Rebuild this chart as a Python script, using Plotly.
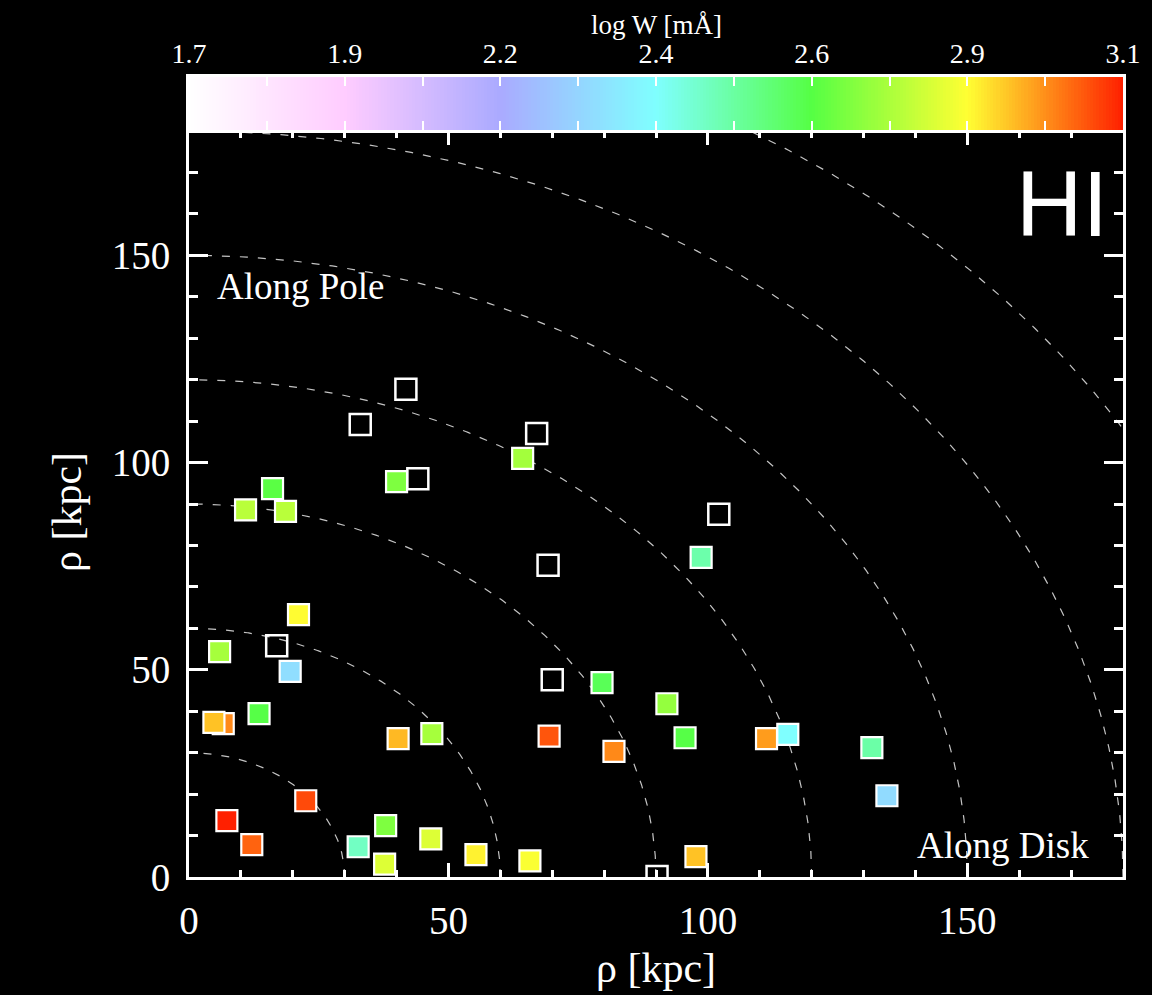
import numpy as np
import plotly.graph_objects as go

# ---- data ----
det_x = [64.3, 40.0, 16.1, 10.9, 18.6, 98.7, 21.1, 5.9, 19.5, 79.6, 92.1, 13.5,
         6.6, 4.8, 40.3, 46.8, 69.4, 81.9, 95.6, 111.3, 115.4, 131.6, 134.5,
         22.5, 7.3, 12.1, 32.6, 37.9, 46.6, 37.7, 55.3, 65.7, 97.7]
det_y = [101.0, 95.4, 93.7, 88.6, 88.2, 77.1, 63.3, 54.4, 49.6, 46.9, 41.8, 39.4,
         37.0, 37.3, 33.4, 34.6, 34.0, 30.3, 33.6, 33.4, 34.4, 31.2, 19.6,
         18.4, 13.6, 7.8, 7.3, 12.4, 9.2, 3.1, 5.4, 3.9, 4.9]
det_logw = [2.74, 2.69, 2.64, 2.77, 2.77, 2.505, 2.87, 2.745, 2.31, 2.61, 2.72, 2.63,
            2.99, 2.93, 2.94, 2.745, 3.045, 2.99, 2.63, 2.97, 2.40, 2.51, 2.30,
            3.056, 3.10, 3.03, 2.475, 2.69, 2.82, 2.82, 2.88, 2.86, 2.93]

lim_x = [41.8, 33.0, 67.0, 44.1, 102.1, 69.2, 16.9, 70.0, 90.2]
lim_y = [117.7, 109.2, 107.0, 96.1, 87.5, 75.2, 55.8, 47.6, 0.1]

ring_radii = [30, 60, 90, 120, 150, 180, 210]

cbar_min, cbar_max = 1.7, 3.1
cbar_tickvals = list(np.linspace(cbar_min, cbar_max, 13))
cbar_ticktext = ["1.7", "", "1.9", "", "2.2", "", "2.4", "", "2.6", "", "2.9", "", "3.1"]

colorscale = [
    [0.0, "#FFFFFF"],
    [0.1667, "#FFCCFF"],
    [0.3333, "#AAAAFF"],
    [0.5, "#7FFFFF"],
    [0.6667, "#55FF44"],
    [0.8333, "#FFFF33"],
    [1.0, "#FF2000"],
]

SERIF = "Liberation Serif, Times New Roman, serif"
SANS = "Liberation Sans, Arial, sans-serif"

# layout geometry (pixels)
W, H = 1152, 995
ML, MR, MT, MB = 189, 29, 77, 118
plot_h = H - MT - MB
plot_w = W - ML - MR
main_top = (877 - 131) / plot_h
cbar_bot = (877 - 130) / plot_h

fig = go.Figure()

# dashed reference rings
t = np.linspace(0, np.pi / 2, 400)
for r in ring_radii:
    fig.add_trace(go.Scatter(
        x=r * np.cos(t), y=r * np.sin(t), mode="lines",
        line=dict(color="rgba(230,230,230,0.85)", width=1.2, dash="8px,10px"),
        hoverinfo="skip", showlegend=False, xaxis="x", yaxis="y"))

# detections
fig.add_trace(go.Scatter(
    x=det_x, y=det_y, mode="markers", showlegend=False, xaxis="x", yaxis="y",
    marker=dict(
        symbol="square", size=21, color=det_logw,
        colorscale=colorscale, cmin=cbar_min, cmax=cbar_max, showscale=False,
        line=dict(color="white", width=2.2),
    )))

# non-detections (open squares)
fig.add_trace(go.Scatter(
    x=lim_x, y=lim_y, mode="markers", showlegend=False, xaxis="x", yaxis="y",
    marker=dict(symbol="square", size=21, color="rgba(0,0,0,0)",
                line=dict(color="white", width=2.5))))

# colour bar drawn as a heatmap strip on its own axes
cb_x = np.linspace(cbar_min, cbar_max, 300)
fig.add_trace(go.Heatmap(
    x=cb_x, y=[0], z=[cb_x], colorscale=colorscale, zmin=cbar_min, zmax=cbar_max,
    showscale=False, hoverinfo="skip", xaxis="x2", yaxis="y2"))

axis_common = dict(
    showgrid=False, zeroline=False,
    showline=True, linecolor="white", linewidth=3, mirror="ticks",
    ticks="inside", tickcolor="white", tickwidth=2.5,
    tickfont=dict(family=SERIF, size=39, color="white"),
    tick0=0, dtick=50,
)

fig.update_layout(
    width=W, height=H,
    margin=dict(l=ML, r=MR, t=MT, b=MB, pad=0, autoexpand=False),
    paper_bgcolor="black", plot_bgcolor="black",
    font=dict(family=SERIF, color="white"),
    xaxis=dict(**axis_common, range=[0, 180], ticklen=14, domain=[0, 1], anchor="y",
               minor=dict(ticks="inside", ticklen=7, dtick=10, tickcolor="white", tickwidth=2.5),
               ticklabelstandoff=7),
    yaxis=dict(**axis_common, range=[0, 180], ticklen=19, domain=[0, main_top], anchor="x",
               minor=dict(ticks="inside", ticklen=9, dtick=10, tickcolor="white", tickwidth=2.5),
               ticklabelstandoff=8),
    xaxis2=dict(range=[cbar_min, cbar_max], domain=[0, 1], anchor="y2", side="top",
                showgrid=False, zeroline=False, showline=True, linecolor="white",
                linewidth=3, mirror="ticks", ticks="inside", ticklen=9, tickwidth=2,
                tickcolor="white", tickmode="array", tickvals=cbar_tickvals,
                ticktext=cbar_ticktext, ticklabelstandoff=0,
                tickfont=dict(family=SERIF, size=28, color="white")),
    yaxis2=dict(range=[-0.5, 0.5], domain=[cbar_bot, 1], anchor="x2",
                showgrid=False, zeroline=False, showline=True, linecolor="white",
                linewidth=3, mirror=True, showticklabels=False, ticks=""),
)

# axis titles
fig.add_annotation(text="ρ [kpc]", xref="paper", yref="paper", x=0.5,
                   y=(877 - 968) / plot_h, xanchor="center", yanchor="middle",
                   showarrow=False, font=dict(family=SERIF, size=42, color="white"))
fig.add_annotation(text="ρ [kpc]", xref="paper", yref="paper",
                   x=(67 - ML) / plot_w, y=(877 - 512) / plot_h,
                   xanchor="center", yanchor="middle",
                   textangle=-90, showarrow=False,
                   font=dict(family=SERIF, size=42, color="white"))
fig.add_annotation(text="log W [mÅ]", xref="paper", yref="paper", x=0.5,
                   y=(877 - 25) / plot_h, xanchor="center", yanchor="middle",
                   showarrow=False, font=dict(family=SERIF, size=27, color="white"))

# panel labels
fig.add_annotation(text="HI", xref="x", yref="y", x=168.2, y=162.5,
                   showarrow=False, font=dict(family=SANS, size=92, color="white"))
fig.add_annotation(text="Along Pole", xref="x", yref="y", x=21.6, y=142.6,
                   showarrow=False, font=dict(family=SERIF, size=37, color="white"))
fig.add_annotation(text="Along Disk", xref="x", yref="y", x=156.9, y=7.7,
                   showarrow=False, font=dict(family=SERIF, size=37, color="white"))

fig.write_html("out.html")
